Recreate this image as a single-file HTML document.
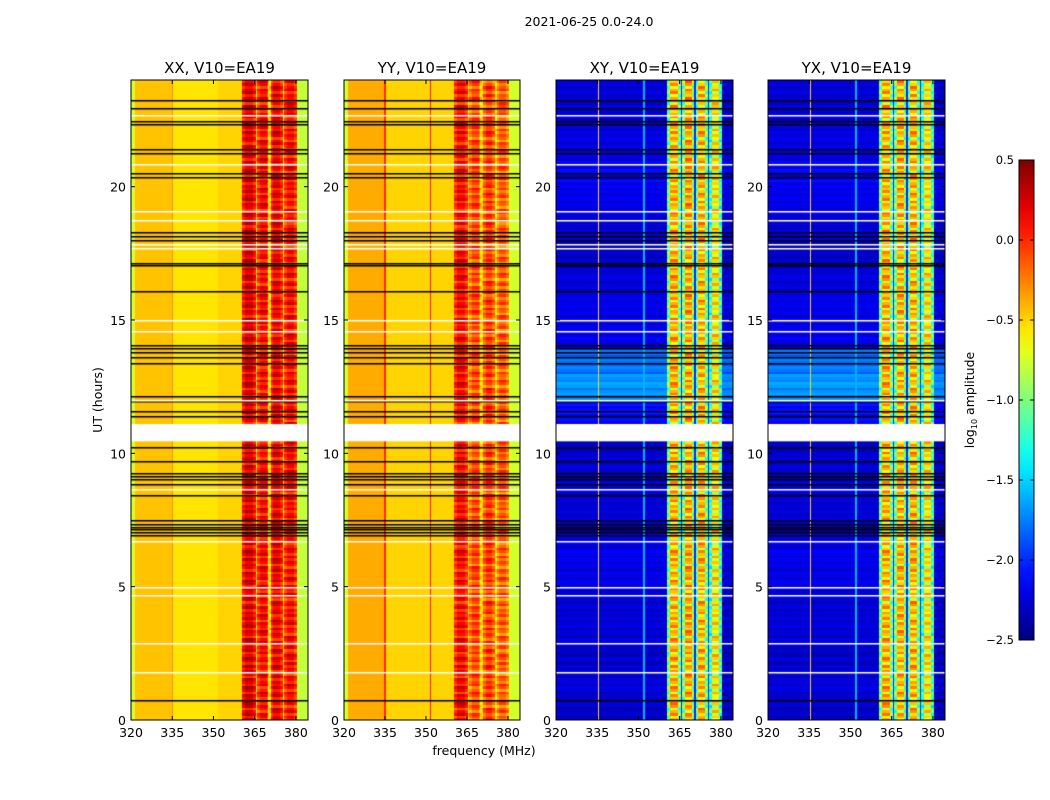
<!DOCTYPE html>
<html><head><meta charset="utf-8">
<style>
body{margin:0;background:#fff;font-family:"DejaVu Sans","Liberation Sans",sans-serif;}
#wrap{position:relative;width:1050px;height:800px;overflow:hidden;}
canvas{position:absolute;}
svg{position:absolute;left:0;top:0;}
</style></head><body>
<div id="wrap">
<canvas id="c0" width="177" height="640" style="left:131px;top:80px"></canvas>
<canvas id="c1" width="176" height="640" style="left:344px;top:80px"></canvas>
<canvas id="c2" width="177" height="640" style="left:556px;top:80px"></canvas>
<canvas id="c3" width="177" height="640" style="left:768px;top:80px"></canvas>
<svg id="ov" width="1050" height="800"></svg>
</div>
<script>
const titles=["XX, V10=EA19","YY, V10=EA19","XY, V10=EA19","YX, V10=EA19"];
const xTicks=[320,335,350,365,380];
const yTicks=[0,5,10,15,20];
const cbTicks=[0.5,0.0,-0.5,-1.0,-1.5,-2.0,-2.5];
// channel segments [startMHz,endMHz,log10 amp]
const segXX=[[320,321.5,-0.75],[321.5,335,-0.45],[335,335.5,-0.3],[335.5,352,-0.55],[352,360.7,-0.5],[360.7,365.3,0.2],[365.3,366,-0.4],[366,370.2,0.1],[370.2,371,-0.4],[371,375.5,0.15],[375.5,376.2,-0.4],[376.2,380.7,0.1],[380.7,384.4,-0.8]];
const segYY=[[320,321.5,-0.75],[321.5,335,-0.38],[335,335.5,0.0],[335.5,351.6,-0.5],[351.6,352.1,0.05],[352.1,360.7,-0.5],[360.7,365.3,0.1],[365.3,366,-0.35],[366,370.2,-0.1],[370.2,371,-0.4],[371,375.5,-0.05],[375.5,376.2,-0.4],[376.2,380.7,-0.15],[380.7,384.4,-0.75]];
const segXY=[[320,335.6,-2.3],[335.6,336.1,-0.5],[336.1,352.2,-2.3],[352.2,352.6,-1.6],[352.6,360.7,-2.3],[360.7,365.3,-0.45],[365.3,366,-2.0],[366,370.4,-0.4],[370.4,371,-2.0],[371,375.5,-0.45],[375.5,376.2,-2.0],[376.2,380.4,-0.6],[380.4,384.4,-2.35]];
const segYX=[[320,335.4,-2.3],[335.4,335.9,-0.5],[335.9,352,-2.3],[352,352.4,-1.6],[352.4,360.7,-2.3],[360.7,365.3,-0.45],[365.3,366,-2.0],[366,370.4,-0.45],[370.4,371,-2.0],[371,375.5,-0.45],[375.5,376.2,-2.0],[376.2,380.4,-0.6],[380.4,384.4,-2.35]];
const rowVar=[0.1,-0.2,0.25,0.05,-0.3,0.15,0.3,-0.1,0.0,0.2,-0.25,0.1,0.3,-0.15,0.05,0.2,-0.3,0.0,0.15,-0.1,0.25,-0.2,0.1,0.3,-0.05,-0.25,0.2,0.05,-0.1,0.15,0.3,-0.3,0.0,0.1,-0.2,0.25,0.05,-0.15,0.2,-0.05];
const hourBg=[0.0,0.05,0.0,0.05,0.05,0.1,0.1,0.05,0.05,0.05,0.0,0.2,0.6,0.5,0.1,0.1,0.05,0.0,0.05,0.1,0.15,0.1,0.05,0.05];
const blackRows=[23.25,22.95,22.45,22.35,21.4,21.25,20.5,20.35,18.3,18.15,18.0,17.15,17.05,16.1,14.05,13.95,13.8,13.6,13.4,12.15,11.95,11.6,11.4,10.25,9.7,9.25,9.15,9.05,8.85,8.45,7.5,7.35,7.25,7.15,7.05,6.95,0.75];
const whiteRows=[22.7,20.85,19.1,18.75,17.85,17.7,15.0,14.6,12.0,8.65,6.7,5.0,4.7,2.9,1.8];
const blockEdges=[360.7,365.3,366,370.4,371,375.5,376.2,380.5];
const gapStart=10.45, gapEnd=11.1;
const fMin=320,fMax=384.4,hMax=24;

function jet(v){let t=(v+2.5)/3;t=Math.max(0,Math.min(1,t));
 const f=x=>Math.max(0,Math.min(1,x));
 const r=f(1.5-Math.abs(4*t-3)),g=f(1.5-Math.abs(4*t-2)),b=f(1.5-Math.abs(4*t-1));
 return `rgb(${r*255|0},${g*255|0},${b*255|0})`;}
function segVal(seg,f){for(const s of seg)if(f>=s[0]&&f<s[1])return s[2];return seg[seg.length-1][2];}
function edgeDist(f){let d=99;blockEdges.forEach(e=>{d=Math.min(d,Math.abs(f-e));});return d;}
const segs=[segXX,segYY,segXY,segYX];
segs.forEach((seg,p)=>{
 const cv=document.getElementById('c'+p),ctx=cv.getContext('2d');
 const W=cv.width,H=cv.height;
 const xS=f=>(f-fMin)/(fMax-fMin)*W, yS=h=>H-h/hMax*H;
 const cross=p>=2;
 const nR=240,dh=hMax/nR;
 for(let r=0;r<nR;r++){
  const h=r*dh;
  for(let f=fMin;f<fMax;f+=0.5){
   const fc=f+0.25;
   let v=segVal(seg,fc);
   const inBand=fc>=360.7&&fc<380.5&&v>-1.5&&v>segVal(seg,340)+0.05;
   const blk=Math.floor((fc-360.7)/5);
   if(inBand){
     v+=rowVar[(r+blk*13)%rowVar.length]*(cross?1.0:0.7);
     if(cross&&edgeDist(fc)<0.8)v-=0.6;
     else if(!cross&&edgeDist(fc)<0.8)v-=0.15;
   }
   else if(cross&&v<-2)v+=hourBg[Math.floor(h)]+rowVar[r%rowVar.length]*0.25;
   ctx.fillStyle=jet(v);
   ctx.fillRect(Math.floor(xS(f)),Math.floor(yS(h+dh)),Math.ceil(xS(f+0.5)-xS(f))+1,Math.ceil(H/nR)+1);
  }
 }
 ctx.fillStyle='#000';
 blackRows.forEach(h=>ctx.fillRect(0,Math.round(yS(h)),W,1.5));
 ctx.fillStyle='#fff';
 whiteRows.forEach(h=>ctx.fillRect(0,Math.round(yS(h)),W,1.5));
 ctx.fillRect(0,yS(gapEnd),W,yS(gapStart)-yS(gapEnd));
});

const NS='http://www.w3.org/2000/svg',ov=document.getElementById('ov');
function el(tag,attrs,txt){const e=document.createElementNS(NS,tag);for(const k in attrs)e.setAttribute(k,attrs[k]);if(txt!==undefined)e.textContent=txt;ov.appendChild(e);return e;}
const panels=[[131,308],[344,520],[556,733],[768,945]];
const yTop=80,yBot=720;
panels.forEach((pp,i)=>{
 const [x0,x1]=pp;const xS=f=>x0+(f-fMin)/(fMax-fMin)*(x1-x0);const yS=h=>yBot-h/hMax*(yBot-yTop);
 const fr=el('rect',{x:x0,y:yTop,width:x1-x0,height:yBot-yTop,fill:'none',stroke:'#000','stroke-width':1});
 
 
 const t=el('text',{x:(x0+x1)/2,y:73,'text-anchor':'middle','font-size':15},titles[i]);
 
 
 xTicks.forEach(v=>{const x=xS(v);
  el('line',{x1:x,x2:x,y1:yBot,y2:yBot-4,stroke:'#000'});el('line',{x1:x,x2:x,y1:yTop,y2:yTop+4,stroke:'#000'});
  const l=el('text',{x:x,y:737,'text-anchor':'middle','font-size':12.5},String(v));
  
  });
 yTicks.forEach(v=>{const y=yS(v);
  el('line',{x1:x0,x2:x0+4,y1:y,y2:y,stroke:'#000'});el('line',{x1:x1,x2:x1-4,y1:y,y2:y,stroke:'#000'});
  const l=el('text',{x:x0-5,y:y+5,'text-anchor':'end','font-size':12.5},String(v));
  
  });
});
let e;
e=el('text',{x:589,y:26,'text-anchor':'middle','font-size':12.5},'2021-06-25 0.0-24.0');


e=el('text',{x:484,y:755,'text-anchor':'middle','font-size':12.5},'frequency (MHz)');


e=el('text',{x:0,y:0,'text-anchor':'middle','font-size':12.5,transform:'translate(102,400) rotate(-90)'},'UT (hours)');


const defs=el('defs',{});const lg=document.createElementNS(NS,'linearGradient');lg.setAttribute('id','jg');lg.setAttribute('x1','0');lg.setAttribute('y1','1');lg.setAttribute('x2','0');lg.setAttribute('y2','0');defs.appendChild(lg);
for(let i=0;i<=20;i++){const s=document.createElementNS(NS,'stop');s.setAttribute('offset',i/20);s.setAttribute('stop-color',jet(-2.5+3*i/20));lg.appendChild(s);}
e=el('rect',{x:1019,y:160,width:15,height:480,fill:'url(#jg)',stroke:'#000'});


const cbY=v=>640-(v+2.5)/3*480;
cbTicks.forEach(v=>{const y=cbY(v);
 el('line',{x1:1019,x2:1023,y1:y,y2:y,stroke:'#000'});el('line',{x1:1034,x2:1030,y1:y,y2:y,stroke:'#000'});
 const l=el('text',{x:1014,y:y+4,'text-anchor':'end','font-size':11.5},(v<0?'\u2212':'')+Math.abs(v).toFixed(1));
 
 });
e=el('text',{x:0,y:0,'text-anchor':'middle','font-size':12.5,transform:'translate(974,400) rotate(-90)'});
e.innerHTML='log<tspan font-size="8" dy="3">10</tspan><tspan dy="-3"> amplitude</tspan>';


</script>
</body></html>
